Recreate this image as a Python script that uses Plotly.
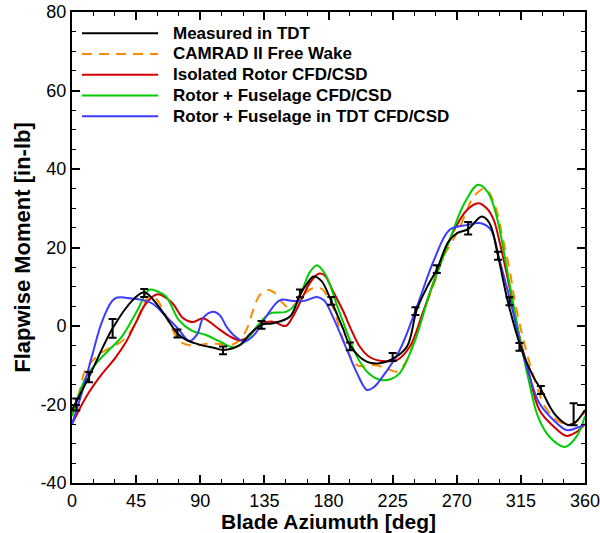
import plotly.graph_objects as go

# ---------------- data ----------------
meas_x = [0, 12, 28.5, 42.6, 50.7, 61, 74, 80.5, 90, 100, 106, 118, 125, 133, 141, 153, 160, 165, 169.5, 175, 182,
          190, 195, 206.8, 216, 225, 235, 242, 250, 256, 264, 270, 278, 287.5, 293, 299, 306, 315.6, 323.7, 329.5,
          335.4, 340, 348, 353, 360]
meas_y = [-21.4, -12.9, -0.6, 6.6, 8.6, 4.9, -1.9, -3.6, -4.8, -5.6, -6.1, -4.8, -2.0, 0.3, 0.7, 2.4, 8.0, 10.8, 12.6, 11.5, 6.3,
          -0.5, -4.9, -9.1, -9.5, -8.4, -5.3, 4.2, 10.5, 14.4, 21.4, 23.6, 24.7, 27.9, 26.2, 17.8, 6.0, -6.1, -12.9, -16.4,
          -20.6, -23.0, -25.2, -24.6, -21.4]

bar_x = [3, 12, 28.5, 50.7, 74, 106, 133, 160, 182, 195, 225, 241, 256, 278, 299, 307, 314, 329, 352]
bar_y = [-20.0, -13.0, -0.6, 8.4, -1.9, -6.2, 0.3, 8.3, 6.4, -5.2, -7.9, 3.8, 14.5, 24.9, 17.9, 6.3, -5.3, -16.3, -22.5]
bar_err = [1.5, 1.3, 2.4, 1.0, 1.0, 1.0, 1.0, 1.0, 1.0, 1.0, 1.0, 1.0, 1.0, 1.6, 1.0, 1.0, 1.0, 1.0, 2.8]

camrad_x = [0, 5, 9, 14, 22, 36, 45, 50, 55, 60, 68, 76, 85, 95, 105, 112, 118, 123, 127, 132, 138, 142, 148, 153,
            160, 168, 175, 180, 184, 188, 193, 200, 213, 222, 228, 235, 241, 248, 255, 260, 266, 272, 282, 290, 297,
            302, 307, 311, 318, 324, 332, 342, 352, 360]
camrad_y = [-22.0, -17.0, -11.5, -9.0, -6.5, -3.6, 1.0, 5.4, 7.8, 6.5, 1.0, -4.0, -5.0, -4.5, -4.6, -4.8, -3.5, -0.5, 4.0, 8.0,
            9.2, 8.5, 5.8, 4.6, 7.0, 9.5, 9.5, 7.0, 4.0, -1.0, -6.0, -10.0, -10.0, -11.0, -11.6, -8.7, -2.7, 4.9, 11.7,
            17.3, 21.0, 25.0, 33.0, 35.0, 30.5, 22.8, 14.5, 5.9, -5.3, -12.9, -20.6, -24.4, -24.8, -22.0]

iso_x = [0, 10, 20, 30, 38, 45, 52, 60, 70, 78, 85, 92, 101, 111, 118, 124, 132, 141, 150, 155, 162, 167, 173, 177,
         183, 190, 196, 202, 208, 214, 222, 228, 237, 246, 256, 267, 277, 285, 291, 296, 300, 305, 314, 320, 328,
         338, 347, 354, 360]
iso_y = [-25.0, -18.0, -12.7, -8.3, -4.0, 1.0, 5.8, 8.1, 6.0, 2.0, 1.0, 2.0, -0.2, -2.7, -3.6, -2.7, 0.5, 1.1, 0.0, 2.4,
         7.5, 11.0, 13.3, 13.0, 9.0, 4.0, -1.0, -5.3, -7.7, -8.7, -9.0, -8.7, -5.3, 3.2, 13.4, 23.6, 29.5, 31.3,
         30.0, 27.0, 21.5, 13.4, -2.7, -11.0, -21.4, -25.6, -28.0, -27.0, -25.0]

fus_x = [0, 10, 19, 26, 35, 46, 54, 60, 66, 75, 84, 94, 104, 113, 120, 129.6, 139, 150, 157.7, 163, 167, 172, 178,
         188, 200, 208, 216, 224, 230, 240, 251, 265, 275, 285, 292, 298, 307, 314, 320, 327, 335, 346, 354, 360]
fus_y = [-23.0, -12.9, -8.7, -6.1, -2.7, 4.1, 9.2, 8.8, 7.5, 1.5, -1.2, -2.3, -4.0, -5.4, -4.4, -0.2, 3.2, 3.6, 5.8, 10.5,
         13.8, 15.5, 13.0, 3.2, -7.8, -12.0, -13.7, -13.5, -12.0, -4.4, 8.3, 21.9, 31.0, 36.0, 34.0, 27.9, 10.9,
         -2.7, -13.0, -23.1, -28.2, -30.8, -28.2, -23.0]

tdt_x = [0, 7.5, 14.5, 21.5, 30, 42, 50, 57, 66, 74, 82.5, 88, 92, 99, 104, 108.5, 115, 121, 128, 137, 146, 155,
         163, 172, 177, 183, 193, 200, 207, 212, 218, 230, 242, 254, 265, 277, 287, 294, 300, 308.6, 314, 320, 328,
         338, 347, 354, 360]
tdt_y = [-25.0, -16.3, -7.0, 1.5, 7.0, 7.0, 6.6, 5.6, 2.4, -0.5, -3.8, -2.0, 2.0, 3.6, 2.6, -0.2, -2.8, -4.0, -2.2, 2.8,
         6.6, 6.4, 6.4, 7.4, 6.5, 2.4, -6.1, -12.0, -16.3, -15.5, -12.9, -6.1, 4.9, 16.8, 24.5, 25.7, 26.2, 24.5,
         16.8, 4.9, -3.6, -11.5, -19.7, -24.0, -26.5, -26.0, -25.0]

names = ["Measured in TDT", "CAMRAD II Free Wake", "Isolated Rotor CFD/CSD",
         "Rotor + Fuselage CFD/CSD", "Rotor + Fuselage in TDT CFD/CSD"]
colors = ["#000000", "#FF8A00", "#D00000", "#00CC00", "#3C3CFF"]

x_ticks = [0, 45, 90, 135, 180, 225, 270, 315, 360]
y_ticks = [-40, -20, 0, 20, 40, 60, 80]
y_tick_text = ["-40", "-20", "0", "20", "40", "60", "80"]

FONT = "Liberation Sans, Arial, Helvetica"

# ---------------- figure ----------------
fig = go.Figure()
series = [(meas_x, meas_y), (camrad_x, camrad_y), (iso_x, iso_y), (fus_x, fus_y), (tdt_x, tdt_y)]
order = [1, 2, 3, 4, 0]  # draw measured last
for i in order:
    sx, sy = series[i]
    fig.add_trace(go.Scatter(
        x=sx, y=sy, mode="lines", name=names[i], showlegend=False,
        line=dict(color=colors[i], width=2, shape="spline", smoothing=1.0,
                  dash="10px,7px" if i == 1 else "solid"),
        hoverinfo="skip"))

fig.add_trace(go.Scatter(
    x=bar_x, y=bar_y, mode="markers", showlegend=False,
    marker=dict(size=1, color="black"),
    error_y=dict(type="data", array=bar_err, visible=True, color="black", thickness=2, width=4)))

# custom legend (long line samples like the reference)
leg_top = 0.955
leg_step = 0.0441
for k in range(5):
    yy = leg_top - k * leg_step
    fig.add_shape(type="line", xref="paper", yref="paper", x0=0.0195, x1=0.168, y0=yy, y1=yy,
                  line=dict(color=colors[k], width=2, dash="10px,7px" if k == 1 else "solid"))
    fig.add_annotation(x=0.193, y=yy, xref="paper", yref="paper", text="<b>" + names[k] + "</b>",
                       showarrow=False, xanchor="left", yanchor="middle",
                       font=dict(family=FONT, size=17, color="black"))

axis_common = dict(showline=True, linewidth=2, linecolor="black", mirror="allticks",
                   ticks="inside", ticklen=8, tickwidth=2, tickcolor="black",
                   showgrid=False, zeroline=False, automargin=False,
                   ticklabeloverflow="allow",
                   tickfont=dict(family=FONT, size=18, color="black"))

fig.update_xaxes(range=[0, 360], tickvals=x_ticks, ticklabelstandoff=0,
                 minor=dict(dtick=15, ticks="inside", ticklen=4, tickwidth=1, tickcolor="black", showgrid=False),
                 title=dict(text="<b>Blade Aziumuth [deg]</b>", standoff=7,
                            font=dict(family=FONT, size=21, color="black")),
                 **axis_common)
fig.update_yaxes(range=[-40, 80], tickvals=y_ticks, ticktext=y_tick_text,
                 minor=dict(dtick=5, ticks="inside", ticklen=4, tickwidth=1, tickcolor="black", showgrid=False),
                 title=dict(text="<b>Flapwise Moment [in-lb]</b>", standoff=4,
                            font=dict(family=FONT, size=22, color="black")),
                 **axis_common)

fig.update_layout(width=600, height=533, margin=dict(l=72, r=15, t=12, b=50),
                  paper_bgcolor="white", plot_bgcolor="white", showlegend=False)

fig.write_html("out.html")
